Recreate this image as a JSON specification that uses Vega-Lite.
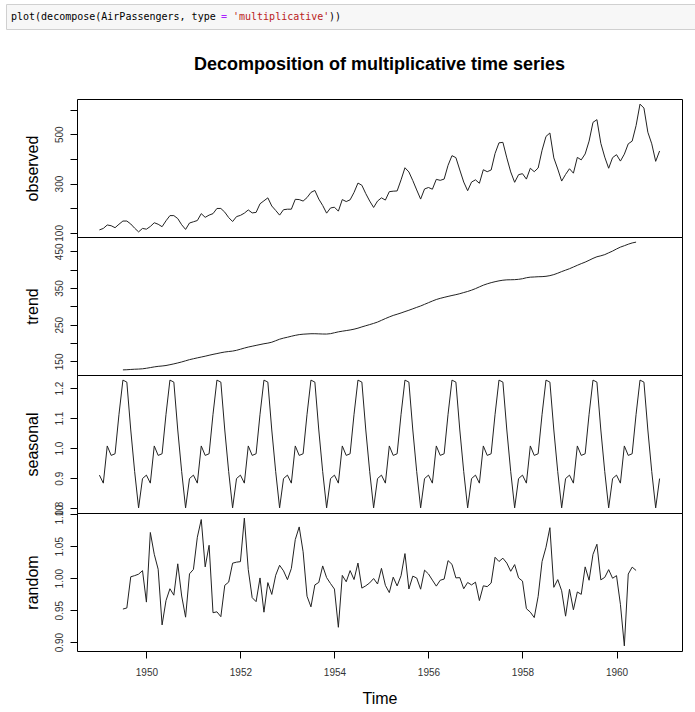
{
"$schema": "https://vega.github.io/schema/vega-lite/v6.json",
"autosize": {"type": "pad"},
"padding": {"left": 5, "top": 3, "right": 0, "bottom": 0},
"background": "white",
"data": {"values": [
{"t":1949,"o":112,"s":0.9102,"tr":null,"r":null},
{"t":1949.0833,"o":118,"s":0.8836,"tr":null,"r":null},
{"t":1949.1667,"o":132,"s":1.0074,"tr":null,"r":null},
{"t":1949.25,"o":129,"s":0.9759,"tr":null,"r":null},
{"t":1949.3333,"o":121,"s":0.9814,"tr":null,"r":null},
{"t":1949.4167,"o":135,"s":1.1128,"tr":null,"r":null},
{"t":1949.5,"o":148,"s":1.2266,"tr":126.79,"r":0.9517},
{"t":1949.5833,"o":148,"s":1.2199,"tr":127.25,"r":0.9534},
{"t":1949.6667,"o":136,"s":1.0605,"tr":127.96,"r":1.0022},
{"t":1949.75,"o":119,"s":0.9218,"tr":128.58,"r":1.0040},
{"t":1949.8333,"o":104,"s":0.8012,"tr":129.00,"r":1.0063},
{"t":1949.9167,"o":118,"s":0.8988,"tr":129.75,"r":1.0118},
{"t":1950,"o":115,"s":0.9102,"tr":131.25,"r":0.9626},
{"t":1950.0833,"o":126,"s":0.8836,"tr":133.08,"r":1.0715},
{"t":1950.1667,"o":141,"s":1.0074,"tr":134.92,"r":1.0374},
{"t":1950.25,"o":135,"s":0.9759,"tr":136.42,"r":1.0140},
{"t":1950.3333,"o":125,"s":0.9814,"tr":137.42,"r":0.9269},
{"t":1950.4167,"o":149,"s":1.1128,"tr":138.75,"r":0.9650},
{"t":1950.5,"o":170,"s":1.2266,"tr":140.92,"r":0.9835},
{"t":1950.5833,"o":170,"s":1.2199,"tr":143.17,"r":0.9734},
{"t":1950.6667,"o":158,"s":1.0605,"tr":145.71,"r":1.0225},
{"t":1950.75,"o":133,"s":0.9218,"tr":148.42,"r":0.9721},
{"t":1950.8333,"o":114,"s":0.8012,"tr":151.54,"r":0.9390},
{"t":1950.9167,"o":140,"s":0.8988,"tr":154.71,"r":1.0068},
{"t":1951,"o":145,"s":0.9102,"tr":157.13,"r":1.0138},
{"t":1951.0833,"o":150,"s":0.8836,"tr":159.54,"r":1.0641},
{"t":1951.1667,"o":178,"s":1.0074,"tr":161.83,"r":1.0918},
{"t":1951.25,"o":163,"s":0.9759,"tr":164.13,"r":1.0177},
{"t":1951.3333,"o":172,"s":0.9814,"tr":166.67,"r":1.0515},
{"t":1951.4167,"o":178,"s":1.1128,"tr":169.08,"r":0.9460},
{"t":1951.5,"o":199,"s":1.2266,"tr":171.25,"r":0.9474},
{"t":1951.5833,"o":199,"s":1.2199,"tr":173.58,"r":0.9398},
{"t":1951.6667,"o":184,"s":1.0605,"tr":175.46,"r":0.9889},
{"t":1951.75,"o":162,"s":0.9218,"tr":176.83,"r":0.9939},
{"t":1951.8333,"o":146,"s":0.8012,"tr":178.04,"r":1.0235},
{"t":1951.9167,"o":166,"s":0.8988,"tr":180.17,"r":1.0251},
{"t":1952,"o":171,"s":0.9102,"tr":183.13,"r":1.0259},
{"t":1952.0833,"o":180,"s":0.8836,"tr":186.21,"r":1.0940},
{"t":1952.1667,"o":193,"s":1.0074,"tr":189.04,"r":1.0134},
{"t":1952.25,"o":181,"s":0.9759,"tr":191.29,"r":0.9696},
{"t":1952.3333,"o":183,"s":0.9814,"tr":193.58,"r":0.9633},
{"t":1952.4167,"o":218,"s":1.1128,"tr":195.83,"r":1.0004},
{"t":1952.5,"o":230,"s":1.2266,"tr":198.04,"r":0.9468},
{"t":1952.5833,"o":242,"s":1.2199,"tr":199.75,"r":0.9931},
{"t":1952.6667,"o":209,"s":1.0605,"tr":202.21,"r":0.9746},
{"t":1952.75,"o":191,"s":0.9218,"tr":206.25,"r":1.0046},
{"t":1952.8333,"o":172,"s":0.8012,"tr":210.42,"r":1.0202},
{"t":1952.9167,"o":194,"s":0.8988,"tr":213.38,"r":1.0115},
{"t":1953,"o":196,"s":0.9102,"tr":215.83,"r":0.9977},
{"t":1953.0833,"o":196,"s":0.8836,"tr":218.50,"r":1.0152},
{"t":1953.1667,"o":236,"s":1.0074,"tr":220.92,"r":1.0604},
{"t":1953.25,"o":235,"s":0.9759,"tr":222.92,"r":1.0802},
{"t":1953.3333,"o":229,"s":0.9814,"tr":224.08,"r":1.0413},
{"t":1953.4167,"o":243,"s":1.1128,"tr":224.71,"r":0.9718},
{"t":1953.5,"o":264,"s":1.2266,"tr":225.33,"r":0.9552},
{"t":1953.5833,"o":272,"s":1.2199,"tr":225.33,"r":0.9895},
{"t":1953.6667,"o":237,"s":1.0605,"tr":224.96,"r":0.9934},
{"t":1953.75,"o":211,"s":0.9218,"tr":224.58,"r":1.0192},
{"t":1953.8333,"o":180,"s":0.8012,"tr":224.46,"r":1.0009},
{"t":1953.9167,"o":201,"s":0.8988,"tr":225.54,"r":0.9916},
{"t":1954,"o":204,"s":0.9102,"tr":228.00,"r":0.9830},
{"t":1954.0833,"o":188,"s":0.8836,"tr":230.46,"r":0.9232},
{"t":1954.1667,"o":235,"s":1.0074,"tr":232.25,"r":1.0044},
{"t":1954.25,"o":227,"s":0.9759,"tr":233.92,"r":0.9944},
{"t":1954.3333,"o":234,"s":0.9814,"tr":235.63,"r":1.0119},
{"t":1954.4167,"o":264,"s":1.1128,"tr":237.75,"r":0.9979},
{"t":1954.5,"o":302,"s":1.2266,"tr":240.50,"r":1.0237},
{"t":1954.5833,"o":293,"s":1.2199,"tr":243.96,"r":0.9845},
{"t":1954.6667,"o":259,"s":1.0605,"tr":247.17,"r":0.9881},
{"t":1954.75,"o":229,"s":0.9218,"tr":250.25,"r":0.9927},
{"t":1954.8333,"o":203,"s":0.8012,"tr":253.50,"r":0.9995},
{"t":1954.9167,"o":229,"s":0.8988,"tr":257.13,"r":0.9909},
{"t":1955,"o":242,"s":0.9102,"tr":261.83,"r":1.0154},
{"t":1955.0833,"o":233,"s":0.8836,"tr":266.67,"r":0.9888},
{"t":1955.1667,"o":267,"s":1.0074,"tr":271.13,"r":0.9775},
{"t":1955.25,"o":269,"s":0.9759,"tr":275.21,"r":1.0016},
{"t":1955.3333,"o":270,"s":0.9814,"tr":278.50,"r":0.9879},
{"t":1955.4167,"o":315,"s":1.1128,"tr":281.96,"r":1.0040},
{"t":1955.5,"o":364,"s":1.2266,"tr":285.75,"r":1.0385},
{"t":1955.5833,"o":347,"s":1.2199,"tr":289.33,"r":0.9831},
{"t":1955.6667,"o":312,"s":1.0605,"tr":293.25,"r":1.0032},
{"t":1955.75,"o":274,"s":0.9218,"tr":297.17,"r":1.0003},
{"t":1955.8333,"o":237,"s":0.8012,"tr":301.00,"r":0.9828},
{"t":1955.9167,"o":278,"s":0.8988,"tr":305.46,"r":1.0126},
{"t":1956,"o":284,"s":0.9102,"tr":309.96,"r":1.0066},
{"t":1956.0833,"o":277,"s":0.8836,"tr":314.42,"r":0.9970},
{"t":1956.1667,"o":317,"s":1.0074,"tr":318.63,"r":0.9876},
{"t":1956.25,"o":313,"s":0.9759,"tr":321.75,"r":0.9968},
{"t":1956.3333,"o":318,"s":0.9814,"tr":324.50,"r":0.9986},
{"t":1956.4167,"o":374,"s":1.1128,"tr":327.08,"r":1.0275},
{"t":1956.5,"o":413,"s":1.2266,"tr":329.54,"r":1.0217},
{"t":1956.5833,"o":405,"s":1.2199,"tr":331.83,"r":1.0005},
{"t":1956.6667,"o":355,"s":1.0605,"tr":334.46,"r":1.0009},
{"t":1956.75,"o":306,"s":0.9218,"tr":337.54,"r":0.9835},
{"t":1956.8333,"o":271,"s":0.8012,"tr":340.54,"r":0.9933},
{"t":1956.9167,"o":306,"s":0.8988,"tr":344.08,"r":0.9895},
{"t":1957,"o":315,"s":0.9102,"tr":348.25,"r":0.9938},
{"t":1957.0833,"o":301,"s":0.8836,"tr":353.00,"r":0.9650},
{"t":1957.1667,"o":356,"s":1.0074,"tr":357.63,"r":0.9881},
{"t":1957.25,"o":348,"s":0.9759,"tr":361.38,"r":0.9868},
{"t":1957.3333,"o":355,"s":0.9814,"tr":364.50,"r":0.9924},
{"t":1957.4167,"o":422,"s":1.1128,"tr":367.17,"r":1.0328},
{"t":1957.5,"o":465,"s":1.2266,"tr":369.46,"r":1.0261},
{"t":1957.5833,"o":467,"s":1.2199,"tr":371.21,"r":1.0313},
{"t":1957.6667,"o":404,"s":1.0605,"tr":372.17,"r":1.0236},
{"t":1957.75,"o":347,"s":0.9218,"tr":372.42,"r":1.0108},
{"t":1957.8333,"o":305,"s":0.8012,"tr":372.75,"r":1.0213},
{"t":1957.9167,"o":336,"s":0.8988,"tr":373.63,"r":1.0005},
{"t":1958,"o":340,"s":0.9102,"tr":375.25,"r":0.9955},
{"t":1958.0833,"o":318,"s":0.8836,"tr":377.92,"r":0.9523},
{"t":1958.1667,"o":362,"s":1.0074,"tr":379.50,"r":0.9469},
{"t":1958.25,"o":348,"s":0.9759,"tr":380.00,"r":0.9384},
{"t":1958.3333,"o":363,"s":0.9814,"tr":380.71,"r":0.9715},
{"t":1958.4167,"o":435,"s":1.1128,"tr":380.96,"r":1.0261},
{"t":1958.5,"o":491,"s":1.2266,"tr":381.83,"r":1.0484},
{"t":1958.5833,"o":505,"s":1.2199,"tr":383.67,"r":1.0790},
{"t":1958.6667,"o":404,"s":1.0605,"tr":386.50,"r":0.9857},
{"t":1958.75,"o":359,"s":0.9218,"tr":390.33,"r":0.9978},
{"t":1958.8333,"o":310,"s":0.8012,"tr":394.71,"r":0.9803},
{"t":1958.9167,"o":337,"s":0.8988,"tr":398.63,"r":0.9406},
{"t":1959,"o":360,"s":0.9102,"tr":402.54,"r":0.9826},
{"t":1959.0833,"o":342,"s":0.8836,"tr":407.17,"r":0.9506},
{"t":1959.1667,"o":406,"s":1.0074,"tr":411.88,"r":0.9785},
{"t":1959.25,"o":396,"s":0.9759,"tr":416.33,"r":0.9747},
{"t":1959.3333,"o":420,"s":0.9814,"tr":420.50,"r":1.0177},
{"t":1959.4167,"o":472,"s":1.1128,"tr":425.50,"r":0.9968},
{"t":1959.5,"o":548,"s":1.2266,"tr":430.71,"r":1.0373},
{"t":1959.5833,"o":559,"s":1.2199,"tr":435.13,"r":1.0531},
{"t":1959.6667,"o":463,"s":1.0605,"tr":437.71,"r":0.9974},
{"t":1959.75,"o":407,"s":0.9218,"tr":440.96,"r":1.0013},
{"t":1959.8333,"o":362,"s":0.8012,"tr":445.83,"r":1.0134},
{"t":1959.9167,"o":405,"s":0.8988,"tr":450.63,"r":0.9999},
{"t":1960,"o":417,"s":0.9102,"tr":456.33,"r":1.0040},
{"t":1960.0833,"o":391,"s":0.8836,"tr":461.38,"r":0.9591},
{"t":1960.1667,"o":419,"s":1.0074,"tr":465.21,"r":0.8941},
{"t":1960.25,"o":461,"s":0.9759,"tr":469.33,"r":1.0065},
{"t":1960.3333,"o":472,"s":0.9814,"tr":472.75,"r":1.0173},
{"t":1960.4167,"o":535,"s":1.1128,"tr":475.04,"r":1.0121},
{"t":1960.5,"o":622,"s":1.2266,"tr":null,"r":null},
{"t":1960.5833,"o":606,"s":1.2199,"tr":null,"r":null},
{"t":1960.6667,"o":508,"s":1.0605,"tr":null,"r":null},
{"t":1960.75,"o":461,"s":0.9218,"tr":null,"r":null},
{"t":1960.8333,"o":390,"s":0.8012,"tr":null,"r":null},
{"t":1960.9167,"o":432,"s":0.8988,"tr":null,"r":null}
]},
"spacing": 25,
"vconcat": [
  {
    "width": 689, "height": 25,
    "view": {"fill": "#f7f7f7", "stroke": "#d0d0d0", "strokeWidth": 1},
    "data": {"values": [
      {"c": 0, "txt": "plot(decompose(AirPassengers, type", "k": "code"},
      {"c": 35, "txt": "=", "k": "op"},
      {"c": 37, "txt": "'multiplicative'", "k": "str"},
      {"c": 53, "txt": "))", "k": "code"}
    ]},
    "mark": {"type": "text", "align": "left", "baseline": "middle", "font": "DejaVu Sans Mono", "fontSize": 10},
    "encoding": {
      "x": {"field": "c", "type": "quantitative", "scale": {"domain": [-0.833, 114], "nice": false, "zero": false}, "axis": null},
      "text": {"field": "txt"},
      "color": {"field": "k", "type": "nominal", "scale": {"domain": ["code", "op", "str"], "range": ["#000000", "#aa22ff", "#ba2121"]}, "legend": null}
    }
  },
  {
    "spacing": 16,
    "hconcat": [
      {
        "width": 1, "height": 1,
        "view": {"stroke": null},
        "data": {"values": []},
        "mark": "point",
        "encoding": {}
      },
      {
        "spacing": 0,
        "bounds": "flush",
        "vconcat": [
          {
            "width": 605, "height": 138,
            "title": {"text": "Decomposition of multiplicative time series", "frame": "group", "anchor": "middle", "offset": 7, "baseline": "bottom", "fontSize": 18, "font": "Liberation Sans", "fontWeight": "bold", "color": "#000"},
            "mark": {"type": "line", "color": "#222", "strokeWidth": 1, "clip": true},
            "encoding": {
              "x": {"field": "t", "type": "quantitative", "scale": {"domain": [1948.5233, 1961.3933], "nice": false, "zero": false}, "axis": null},
              "y": {"field": "o", "type": "quantitative", "scale": {"domain": [83.28, 642.72], "nice": false, "zero": false},
                    "axis": {"title": "observed", "values": [100, 200, 300, 400, 500, 600], "format": "d", "labelExpr": "datum.value % 200 == 100 ? datum.label : ''"}}
            }
          },
          {
            "width": 605, "height": 138,
            "mark": {"type": "line", "color": "#222", "strokeWidth": 1, "clip": true},
            "encoding": {
              "x": {"field": "t", "type": "quantitative", "scale": {"domain": [1948.5233, 1961.3933], "nice": false, "zero": false}, "axis": null},
              "y": {"field": "tr", "type": "quantitative", "scale": {"domain": [112.86, 488.97], "nice": false, "zero": false},
                    "axis": {"title": "trend", "values": [150, 200, 250, 300, 350, 400, 450], "format": "d", "labelExpr": "(datum.value - 150) % 100 == 0 ? datum.label : ''"}}
            }
          },
          {
            "width": 605, "height": 138,
            "mark": {"type": "line", "color": "#222", "strokeWidth": 1, "clip": true},
            "encoding": {
              "x": {"field": "t", "type": "quantitative", "scale": {"domain": [1948.5233, 1961.3933], "nice": false, "zero": false}, "axis": null},
              "y": {"field": "s", "type": "quantitative", "scale": {"domain": [0.78416, 1.24357], "nice": false, "zero": false},
                    "axis": {"title": "seasonal", "values": [0.8, 0.9, 1.0, 1.1, 1.2], "format": ".1f"}}
            }
          },
          {
            "width": 605, "height": 138,
            "mark": {"type": "line", "color": "#222", "strokeWidth": 1, "clip": true},
            "encoding": {
              "x": {"field": "t", "type": "quantitative", "scale": {"domain": [1948.5233, 1961.3933], "nice": false, "zero": false},
                    "axis": {"title": "Time", "values": [1950, 1952, 1954, 1956, 1958, 1960], "format": "d"}},
              "y": {"field": "r", "type": "quantitative", "scale": {"domain": [0.8861, 1.102], "nice": false, "zero": false},
                    "axis": {"title": "random", "values": [0.9, 0.95, 1.0, 1.05, 1.1], "format": ".2f"}}
            }
          }
        ]
      }
    ]
  }
],
"config": {
  "view": {"stroke": "#000", "strokeWidth": 1},
  "axis": {
    "grid": false, "domain": false, "tickColor": "#000", "tickSize": 7, "tickWidth": 1,
    "labelFont": "Liberation Sans", "labelFontSize": 10, "labelColor": "#333",
    "labelFlush": false, "labelOverlap": false, "labelBound": false,
    "titleFont": "Liberation Sans", "titleFontSize": 16, "titleFontWeight": "normal", "titleColor": "#000"
  },
  "axisY": {
    "labelAngle": 270, "labelAlign": "center", "labelBaseline": "bottom", "labelPadding": 6,
    "titleAngle": 270, "titleAlign": "center", "titleBaseline": "alphabetic", "titleX": -40, "titleY": 69
  },
  "axisX": {
    "labelAngle": 0, "labelPadding": 9, "titleBaseline": "alphabetic", "titleY": 52
  }
}
}
